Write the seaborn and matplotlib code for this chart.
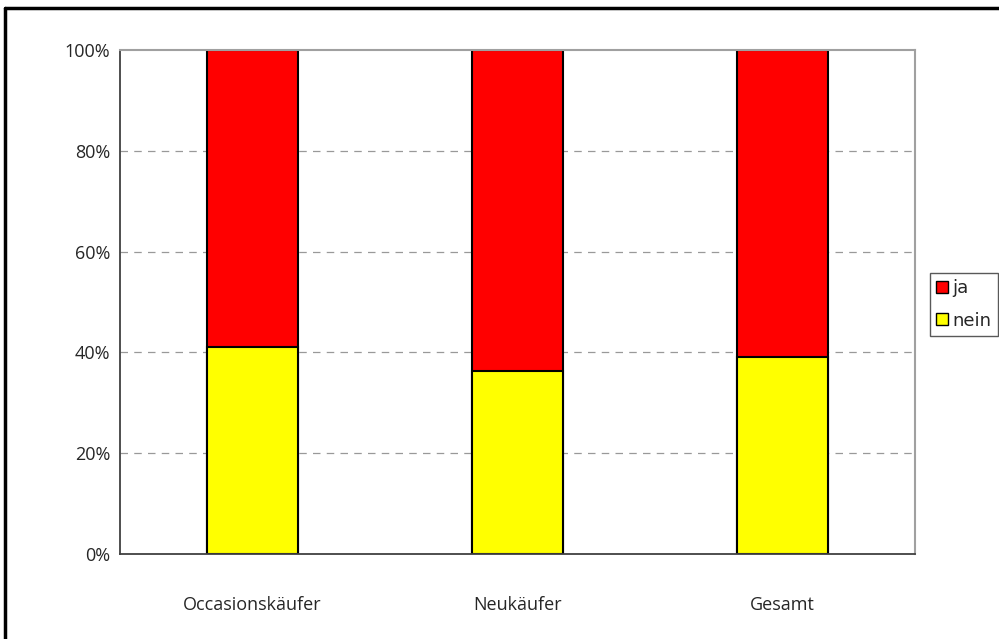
import numpy as np
import pandas as pd
import matplotlib
matplotlib.use("Agg")
import matplotlib.pyplot as plt
import seaborn as sns
from matplotlib.patches import Patch
from matplotlib.lines import Line2D

# Daten (Anteile in %)
kategorien = ["Occasionskäufer", "Neukäufer", "Gesamt"]
nein = [41.1, 36.4, 39.0]
ja = [58.9, 63.6, 61.0]

sns.set_style("white")
plt.rcParams['font.family'] = ['Open Sans', 'DejaVu Sans']

df = pd.DataFrame({"kategorie": kategorien, "nein": nein, "ja": ja})
df["gesamt"] = df["nein"] + df["ja"]

fig = plt.figure(figsize=(9.99, 6.39), dpi=100)
ax = fig.add_axes([120 / 999, 1 - 554 / 639, 795 / 999, 504 / 639])

# gestapelte Balken: erst Summe (rot), dann "nein" (gelb) darüber
sns.barplot(data=df, x="kategorie", y="gesamt", color="#FF0000", width=0.34,
            edgecolor="black", linewidth=1.5, ax=ax, saturation=1)
sns.barplot(data=df, x="kategorie", y="nein", color="#FFFF00", width=0.34,
            edgecolor="black", linewidth=1.5, ax=ax, saturation=1)

ax.set_xlim(-0.5, 2.5)
ax.set_ylim(0, 100)
ax.set_yticks(np.arange(0, 101, 20))
ax.set_yticklabels([f"{v}%" for v in range(0, 101, 20)])
ax.set_xlabel("")
ax.set_ylabel("")

# Gitterlinien
for v in [20, 40, 60, 80]:
    ax.axhline(v, color="#999999", linestyle=(0, (6, 5)), linewidth=0.9, zorder=0)

ax.spines["top"].set_color("#A0A0A0")
ax.spines["top"].set_linewidth(1.5)
ax.spines["right"].set_color("#A0A0A0")
ax.spines["right"].set_linewidth(1.5)
for s in ["left", "bottom"]:
    ax.spines[s].set_color("#404040")
    ax.spines[s].set_linewidth(1.3)

ax.tick_params(axis="y", length=6, width=1, color="#404040", labelsize=13, pad=4,
               direction="inout")
ax.tick_params(axis="x", which="major", length=0, labelsize=13, pad=30)
ax.set_xticks([-0.5, 0.5, 1.5, 2.5], minor=True)
ax.tick_params(axis="x", which="minor", length=5, width=1, color="#404040", direction="out")

handles = [Patch(facecolor="#FF0000", edgecolor="black", label="ja"),
           Patch(facecolor="#FFFF00", edgecolor="black", label="nein")]
leg = fig.legend(handles=handles, loc="upper left", bbox_to_anchor=(930 / 999, 1 - 273 / 639),
                 frameon=True, fancybox=False, edgecolor="#303030",
                 handlelength=0.65, handleheight=0.65, handletextpad=0.25, borderpad=0.35,
                 labelspacing=0.8, borderaxespad=0,
                 prop={"family": "DejaVu Sans", "size": 13})

# Rahmen um die Grafik (rechts und unten abgeschnitten)
fig.add_artist(Line2D([5 / 999, 5 / 999], [0, 1 - 8 / 639], transform=fig.transFigure,
                      color="black", linewidth=2.5))
fig.add_artist(Line2D([5 / 999, 1], [1 - 8 / 639, 1 - 8 / 639], transform=fig.transFigure,
                      color="black", linewidth=2.5))

fig.savefig("out.png", dpi=100)
